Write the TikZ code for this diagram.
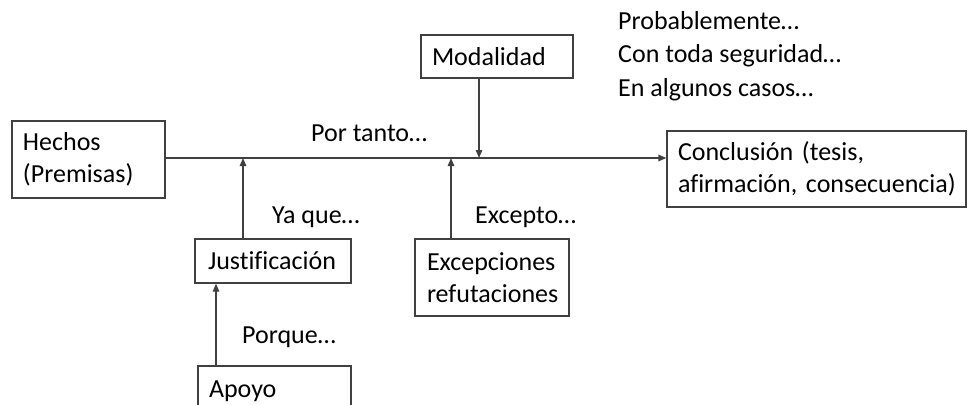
\documentclass[tikz,border=0pt]{standalone}
\usepackage{fontspec}
\setmainfont[Ligatures=NoCommon]{Carlito}
\usetikzlibrary{arrows.meta}
\definecolor{linegray}{HTML}{404040}
\begin{document}
\begin{tikzpicture}[x=1pt,y=-1pt,
  every node/.style={font=\fontsize{26}{31.5}\selectfont\frenchspacing, text=black},
  box/.style={draw=linegray, line width=1.3pt, rectangle, align=left, inner ysep=0pt},
  lbl/.style={anchor=base west, inner sep=0pt},
  conn/.style={draw=linegray, line width=1.3pt, -{Triangle[length=8pt,width=6.5pt]}}]
\useasboundingbox (0,0) rectangle (971,404);
\clip (0,0) rectangle (971,404);
\node[box, minimum width=153pt, minimum height=77pt, text width=131pt, inner xsep=11pt] (hechos) at (88.5,159.5) {Hechos\\(Premisas)};
\node[box, minimum width=299pt, minimum height=76pt, text width=289pt, inner xsep=5pt] (concl) at (816.5,169) {\hspace*{6pt}Conclusión (tesis,\\\hspace*{6pt}afirmación, consecuencia)};
\node[box, minimum width=152pt, minimum height=43pt, text width=130pt, inner xsep=11pt] (modal) at (497,56.5) {Modalidad};
\node[box, minimum width=156pt, minimum height=44pt, text width=130pt, inner xsep=13pt] (just) at (273,261) {Justificación};
\node[box, minimum width=154pt, minimum height=77pt, text width=130pt, inner xsep=12pt] (excep) at (492,277.5) {Excepciones\\refutaciones};
\node[box, minimum width=153pt, minimum height=77pt, text width=131pt, inner xsep=11pt] (apoyo) at (274.5,404.5) {Apoyo\\\mbox{}};
\node[lbl] (portanto) at (311,141) {Por tanto…};
\node[lbl] (yaque) at (272,223) {Ya que…};
\node[lbl] (excepto) at (475,223) {Excepto…};
\node[lbl] (porque) at (242,343) {Porque…};
\node[lbl] (prob) at (618,30) {Probablemente…};
\node[lbl] (seg) at (618,63) {Con toda seguridad…};
\node[lbl] (casos) at (618,96) {En algunos casos…};
\coordinate (cj) at (243,158);
\coordinate (ce) at (451,158);
\coordinate (cm) at (479,158);
\coordinate (ca) at (216,158);
\draw[conn] (hechos.east |- cj) -- (cj -| concl.west);
\draw[conn] (cm |- modal.south) -- (cm);
\draw[conn] (cj |- just.north) -- (cj);
\draw[conn] (ce |- excep.north) -- (ce);
\draw[conn] (ca |- apoyo.north) -- (ca |- just.south);
\end{tikzpicture}
\end{document}
